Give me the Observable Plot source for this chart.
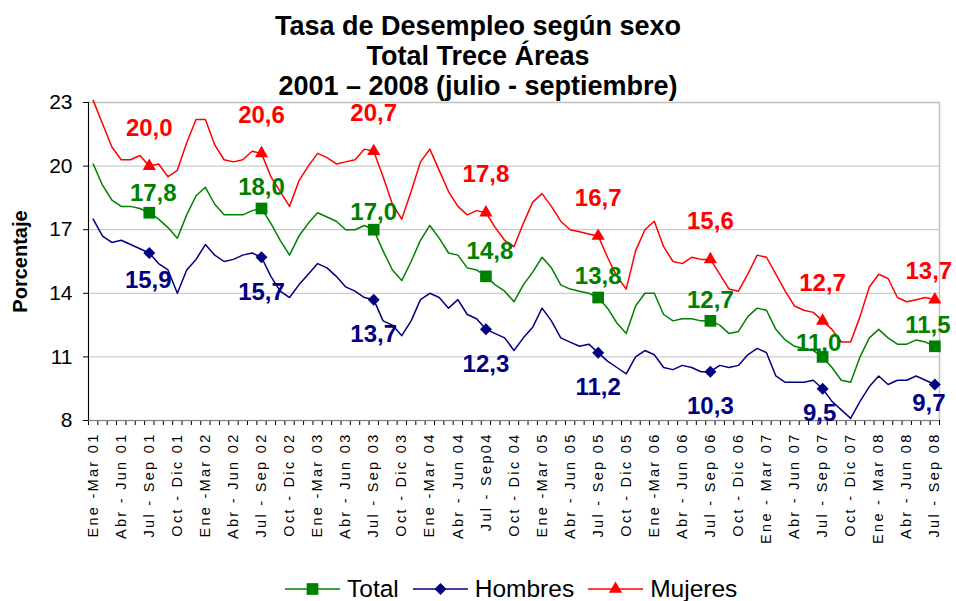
<!DOCTYPE html>
<html><head><meta charset="utf-8">
<script src="https://cdn.jsdelivr.net/npm/d3@7"></script>
<script src="https://cdn.jsdelivr.net/npm/@observablehq/plot@0.6"></script>
<style>
body{margin:0;background:#fff;font-family:"Liberation Sans",Arial,sans-serif;}
#wrap{position:relative;width:956px;height:601px;overflow:hidden;background:#fff}
#title{position:absolute;left:0;top:11px;width:956px;text-align:center;font-weight:bold;font-size:27px;line-height:30px;color:#000;z-index:2}
#chart{position:absolute;left:0;top:0}
#legend{position:absolute;left:285px;top:575px;height:28px;display:flex;align-items:center;font-size:24.5px;color:#000}
#legend .item{display:flex;align-items:center;margin-right:14px}
#legend svg{margin-right:7px}
g[aria-label="x-axis tick label"] text{letter-spacing:2.3px}
</style></head>
<body>
<div id="wrap">
  <div id="title">Tasa de Desempleo según sexo<br>Total Trece Áreas<br>2001 – 2008 (julio - septiembre)</div>
  <div id="chart"></div>
  <div id="legend"></div>
</div>
<script>
const tickLabels = [
  "Ene -Mar 01","Abr - Jun 01","Jul - Sep 01","Oct - Dic 01",
  "Ene -Mar 02","Abr - Jun 02","Jul - Sep 02","Oct - Dic 02",
  "Ene -Mar 03","Abr - Jun 03","Jul - Sep 03","Oct - Dic 03",
  "Ene -Mar 04","Abr - Jun 04","Jul - Sep04","Oct - Dic 04",
  "Ene -Mar 05","Abr - Jun 05","Jul - Sep 05","Oct - Dic 05",
  "Ene -Mar 06","Abr - Jun 06","Jul - Sep 06","Oct - Dic 06",
  "Ene - Mar 07","Abr - Jun 07","Jul - Sep 07","Oct - Dic 07",
  "Ene - Mar 08","Abr - Jun 08","Jul - Sep 08"
];
const series = ["Total", "Hombres", "Mujeres"];
const colors = ["#008000", "#000080", "#ff0000"];
const yTicks = [8, 11, 14, 17, 20, 23];

const total = [
  20.1,19.1,18.4,18.1,18.1,18.0,17.8,17.5,17.1,16.6,17.7,18.6,
  19.0,18.2,17.7,17.7,17.7,17.9,18.0,17.3,16.5,15.8,16.7,17.3,
  17.8,17.6,17.4,17.0,17.0,17.2,17.0,16.0,15.1,14.6,15.5,16.5,
  17.2,16.6,15.9,15.8,15.2,15.1,14.8,14.4,14.1,13.6,14.4,15.0,
  15.7,15.2,14.4,14.2,14.1,14.0,13.8,13.3,12.6,12.1,13.4,14.0,
  14.0,13.0,12.7,12.8,12.8,12.7,12.7,12.5,12.1,12.2,12.9,13.3,
  13.2,12.3,11.8,11.5,11.4,11.3,11.0,10.5,9.9,9.8,11.0,11.9,
  12.3,11.9,11.6,11.6,11.8,11.7,11.5
];
const hombres = [
  17.5,16.7,16.4,16.5,16.3,16.1,15.9,15.4,15.1,14.0,15.1,15.6,
  16.3,15.8,15.5,15.6,15.8,15.9,15.7,14.8,14.1,13.8,14.4,14.9,
  15.4,15.2,14.8,14.3,14.1,13.8,13.7,12.7,12.5,12.0,12.7,13.7,
  14.0,13.8,13.3,13.7,13.0,12.8,12.3,12.1,11.9,11.3,11.9,12.4,
  13.3,12.7,11.9,11.7,11.5,11.6,11.2,10.8,10.5,10.2,11.0,11.3,
  11.1,10.5,10.4,10.6,10.5,10.3,10.3,10.6,10.5,10.6,11.1,11.4,
  11.2,10.1,9.8,9.8,9.8,9.9,9.5,8.9,8.5,8.1,8.9,9.6,
  10.1,9.7,9.9,9.9,10.1,9.9,9.7
];
const mujeres = [
  23.1,22.0,20.9,20.3,20.3,20.5,20.0,20.1,19.5,19.8,21.1,22.2,
  22.2,21.0,20.3,20.2,20.3,20.7,20.6,19.5,18.8,18.1,19.3,20.0,
  20.6,20.4,20.1,20.2,20.3,20.8,20.7,19.5,18.2,17.5,18.8,20.2,
  20.8,19.8,18.8,18.1,17.7,17.9,17.8,17.1,16.5,16.2,17.3,18.3,
  18.7,18.1,17.4,17.0,16.9,16.8,16.7,15.7,14.8,14.2,16.0,17.0,
  17.4,16.2,15.5,15.4,15.7,15.6,15.6,14.9,14.2,14.1,14.9,15.8,
  15.7,14.9,14.1,13.4,13.2,13.1,12.7,12.3,11.7,11.7,12.9,14.3,
  14.9,14.7,13.8,13.6,13.7,13.8,13.7
];

const values = {Total: total, Hombres: hombres, Mujeres: mujeres};
const rows = series.flatMap(s => values[s].map((v, i) => ({i, v, s})));
const marked = rows.filter(d => d.i % 12 === 6);
const fmt = v => v.toFixed(1).replace(".", ",");
const labelIdx = tickLabels.map((_, k) => 3 * k);
const bounds = d3.range(total.length + 1).map(k => k - 0.5);

// presentation settings (not data)
const symbolOf = {Total: "square", Hombres: "diamond2", Mujeres: "triangle"};
const rOf = {Total: 6.6, Hombres: 5.4, Mujeres: 4.9};
const dyOf = {Total: -21, Hombres: 35, Mujeres: -38};
const nudge = {
  Total:   {6: [4, -19], 30: [0, -17], 42: [4, -25], 78: [-4, -14], 90: [-7, -21]},
  Hombres: {6: [-1, 27], 78: [-3, 25], 90: [-6, 19]},
  Mujeres: {90: [-6, -28]}
};
const colorOf = s => colors[series.indexOf(s)];
const ndx = d => (nudge[d.s][d.i] || [0, dyOf[d.s]])[0];
const ndy = d => (nudge[d.s][d.i] || [0, dyOf[d.s]])[1];

const markerMarks = series.flatMap(s => {
  const pts = marked.filter(d => d.s === s);
  return [
    Plot.dot(pts, {x: "i", y: "v", symbol: symbolOf[s], fill: colorOf(s), r: rOf[s], stroke: "none"}),
    Plot.text(pts, {
      x: "i", y: "v", text: d => fmt(d.v), fill: colorOf(s), fontSize: 24, fontWeight: "bold",
      render: (index, scales, channels, dims, context, next) => {
        const g = next(index, scales, channels, dims, context);
        d3.select(g).selectAll("text").each(function(_, j) {
          const d = pts[index[j]];
          this.setAttribute("transform", (this.getAttribute("transform") || "") + ` translate(${ndx(d)},${ndy(d)})`);
        });
        return g;
      }
    })
  ];
});

const chart = Plot.plot({
  width: 956, height: 601,
  marginTop: 102, marginBottom: 181, marginLeft: 88, marginRight: 17,
  style: {fontFamily: "'Liberation Sans', Arial, sans-serif", background: "transparent", color: "#000"},
  x: {type: "linear", domain: [-0.5, total.length - 0.5]},
  y: {domain: [8, 23]},
  marks: [
    Plot.gridY(yTicks.slice(1, -1), {stroke: "#c0c0c0", strokeOpacity: 1}),
    Plot.frame({stroke: "#c0c0c0", strokeWidth: 1.5}),
    Plot.axisY(yTicks, {tickSize: 5, tickPadding: 11, fontSize: 21, label: null}),
    Plot.axisX(bounds, {tickSize: 5, tickFormat: () => "", label: null}),
    Plot.axisX(labelIdx, {tickSize: 0, tickPadding: 12, tickRotate: -90, tickFormat: i => tickLabels[i / 3], fontSize: 14.5, label: null}),
    Plot.ruleY([8], {stroke: "#808080"}),
    Plot.ruleX([-0.5], {stroke: "#000"}),
    Plot.line(rows, {x: "i", y: "v", z: "s", stroke: d => colorOf(d.s), strokeWidth: 1.5}),
    ...markerMarks,
    Plot.text(["Porcentaje"], {text: d => d, frameAnchor: "left", textAnchor: "middle", dx: -68, rotate: -90, fontSize: 20, fontWeight: "bold"})
  ]
});
document.getElementById("chart").appendChild(chart);

// legend
const legend = d3.select("#legend");
series.forEach((s, k) => {
  const item = legend.append("div").attr("class", "item");
  const svg = item.append("svg").attr("width", 55).attr("height", 20);
  svg.append("line").attr("x1", 0).attr("x2", 55).attr("y1", 10).attr("y2", 10).attr("stroke", colors[k]).attr("stroke-width", 1.5);
  const sym = {Total: d3.symbolSquare, Hombres: d3.symbolDiamond2, Mujeres: d3.symbolTriangle}[s];
  const size = Math.PI * rOf[s] * rOf[s];
  svg.append("path").attr("transform", "translate(27.5,10)").attr("d", d3.symbol(sym, size)()).attr("fill", colors[k]);
  item.append("span").text(s);
});
</script>
</body></html>
